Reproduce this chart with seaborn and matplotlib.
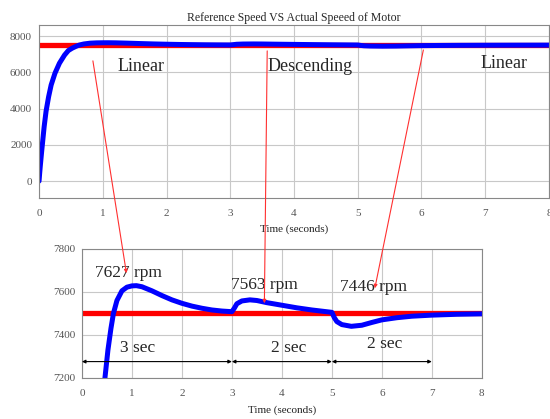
import numpy as np
import pandas as pd
import seaborn as sns
import matplotlib.pyplot as plt
from matplotlib.patches import ConnectionPatch

sns.set_style("whitegrid")
plt.rcParams['font.family'] = ['Liberation Serif', 'DejaVu Serif']

# actual motor speed (time in s, speed in rpm)
t_act = [0, 0.01, 0.02, 0.04, 0.06, 0.08, 0.11, 0.15, 0.19, 0.25, 0.32, 0.40, 0.46,
         0.52, 0.58, 0.63, 0.70, 0.80, 0.90, 1.0, 1.09, 1.2, 1.4, 1.6, 1.8, 2.0, 2.2,
         2.4, 2.6, 2.8, 3.0, 3.05, 3.1, 3.2, 3.36, 3.5, 3.7, 4.0, 4.3, 4.6, 5.0, 5.05,
         5.1, 5.2, 5.39, 5.6, 5.8, 6.0, 6.3, 6.6, 7.0, 7.5, 8.0]
v_act = [0, 450, 850, 1600, 2300, 3000, 3850, 4650, 5300, 5950, 6500, 6950, 7200,
         7330, 7430, 7500, 7560, 7605, 7622, 7628, 7629, 7624, 7605, 7583, 7563, 7547, 7534,
         7524, 7516, 7511, 7508, 7525, 7545, 7558, 7563, 7560, 7550, 7538, 7526, 7516, 7505, 7480,
         7462, 7448, 7440, 7445, 7458, 7470, 7480, 7487, 7492, 7496, 7498]
# reference speed
t_ref = [0, 8]
v_ref = [7500, 7500]

region_labels = ['Linear', 'Descending', 'Linear']
peak_labels = ['7627 rpm', '7563 rpm', '7446 rpm']
span_start = [0, 3, 5]
span_end = [3, 5, 7]
span_labels = ['3 sec', '2 sec', '2 sec']

df = pd.DataFrame({'t': t_act, 'v': v_act})
ref = pd.DataFrame({'t': t_ref, 'v': v_ref})

fig = plt.figure(figsize=(5.5, 4.19), dpi=100)
ax1 = fig.add_axes([0.071, 0.528, 0.927, 0.412])
ax2 = fig.add_axes([0.149, 0.098, 0.727, 0.308])

grid_kw = dict(color='#c8c8c8', linewidth=0.8)
for ax in (ax1, ax2):
    sns.lineplot(data=ref, x='t', y='v', ax=ax, color='#ff0000', linewidth=3.8)
    sns.lineplot(data=df, x='t', y='v', ax=ax, color='#0000ff', linewidth=3.6, sort=False)
    ax.set_xlim(0, 8)
    ax.set_xticks(range(9))
    ax.grid(True, **grid_kw)
    ax.set_ylabel('')
    ax.set_xlabel('Time (seconds)', fontsize=8, color='#222222', labelpad=5)
    ax.tick_params(labelsize=8, colors='#555555', length=0, pad=5)
    ax.tick_params(axis='x', pad=8)
    for s in ax.spines.values():
        s.set_color('#888888')
        s.set_linewidth(0.8)

ax1.set_ylim(-920, 8600)
ax1.set_yticks([0, 2000, 4000, 6000, 8000])
ax1.set_title('Reference Speed VS Actual Speeed of Motor', fontsize=8.5, pad=3)
ax2.set_ylim(7200, 7800)
ax2.set_yticks([7200, 7400, 7600, 7800])

for lab, tx, vy in zip(region_labels, [1.6, 4.25, 7.3], [6300, 6300, 6500]):
    ax1.text(tx, vy, lab, fontsize=13, ha='center', va='center')

for lab, tx, vy in zip(peak_labels, [0.26, 2.98, 5.16], [7688, 7633, 7623]):
    ax2.text(tx, vy, lab, fontsize=12.5, ha='left', va='center')

for s0, s1 in zip(span_start, span_end):
    ax2.annotate('', xy=(s1, 7276), xytext=(s0, 7276),
                 arrowprops=dict(arrowstyle='<|-|>', color='black', lw=0.8,
                                 mutation_scale=5, shrinkA=0, shrinkB=0))
for lab, tx, vy in zip(span_labels, [1.11, 4.14, 6.06], [7341, 7340, 7358]):
    ax2.text(tx, vy, lab, fontsize=12.5, ha='center', va='center')

# red pointer lines from the top chart to the zoomed chart
pointers = [((0.845, 6630), (0.89, 7687)),
            ((3.58, 7180), (3.65, 7547)),
            ((6.03, 7230), (5.86, 7617))]
for a, b in pointers:
    con = ConnectionPatch(xyA=a, coordsA=ax1.transData, xyB=b, coordsB=ax2.transData,
                          color='#ff3030', lw=0.8, arrowstyle='-|>', mutation_scale=5,
                          shrinkA=0, shrinkB=0)
    fig.add_artist(con)

fig.savefig('out.png', dpi=100)
